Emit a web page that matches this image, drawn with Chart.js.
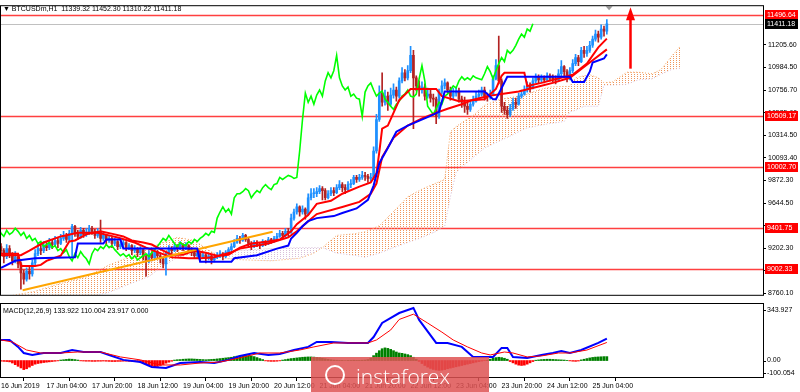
<!DOCTYPE html>
<html>
<head>
<meta charset="utf-8">
<title>BTCUSDm,H1</title>
<script src="https://cdn.jsdelivr.net/npm/chart.js@4.4.1/dist/chart.umd.min.js"></script>
<style>
  html, body { margin: 0; padding: 0; background: #fff; }
  #wrap { position: relative; width: 800px; height: 392px; overflow: hidden; background: #fff; }
  canvas { position: absolute; left: 0; }
  #priceChart { top: 0; }
  #macdChart { top: 301px; }
  .caption { position: absolute; left: 3px; font: 7px 'Liberation Sans', sans-serif; color: #000; white-space: pre; }
  #mark { position: absolute; left: 311px; top: 357px; width: 178px; height: 35px; background: rgba(222, 82, 82, 0.85); }
  #mark span { position: absolute; left: 45px; top: 5px; font: 300 21px 'Open Sans', sans-serif; color: #fff; }
  #mark i { position: absolute; left: 14px; top: 8px; width: 16px; height: 16px; border: 2px solid #fff; border-radius: 50%; }
</style>
</head>
<body>
<div id="wrap">
  <canvas id="priceChart" width="800" height="301"></canvas>
  <canvas id="macdChart" width="800" height="91"></canvas>
  <div class="caption" style="top:5px">▼ BTCUSDm,H1  11339.32 11452.30 11310.22 11411.18</div>
  <div class="caption" style="top:307px">MACD(12,26,9) 133.922 110.004 23.917 0.000</div>
  <div id="mark"><i></i><span>instaforex</span></div>
</div>
<script>
// H1 candles, bar 0 = 16 Jun 12:00. open of each bar = close of the bar before
const firstOpen = 9220;
const closes = [
  9180, 9120, 9200, 9150, 9080, 9120, 9050, 8960, 8900, 8980,
  8950, 9060, 9150, 9200, 9180, 9230, 9210, 9260, 9240, 9280,
  9250, 9300, 9330, 9290, 9350, 9420, 9350, 9320, 9380, 9340,
  9360, 9400, 9370, 9330, 9360, 9300, 9330, 9280, 9300, 9250,
  9270, 9220, 9240, 9260, 9210, 9230, 9180, 9200, 9160, 9190,
  9120, 9080, 9150, 9110, 9170, 9130, 9100, 9050, 9150, 9200,
  9180, 9220, 9200, 9240, 9210, 9230, 9190, 9160, 9130, 9150,
  9120, 9140, 9100, 9130, 9090, 9110, 9130, 9150, 9120, 9160,
  9190, 9220, 9260, 9300, 9280, 9330, 9290, 9250, 9220, 9260,
  9240, 9230, 9270, 9250, 9290, 9270, 9300, 9320, 9350, 9330,
  9370, 9360, 9500, 9560, 9610, 9560, 9590, 9540, 9700, 9740,
  9740, 9760, 9790, 9770, 9700, 9740, 9770, 9750, 9800, 9830,
  9800, 9780, 9830, 9840, 9900, 9880, 9900, 9920, 9910, 9890,
  9900, 10160, 10470, 10730, 10640, 10700, 10620, 10710, 10760, 10700,
  10850, 10930, 10880, 10950, 11100, 10880, 10800, 10760, 10790, 10700,
  10720, 10680, 10670, 10500, 10740, 10800, 10830, 10760, 10700, 10730,
  10750, 10670, 10640, 10600, 10570, 10620, 10650, 10700, 10720, 10760,
  10700, 10690, 10720, 10870, 11000, 10850, 10600, 10560, 10520, 10580,
  10640, 10620, 10700, 10720, 10760, 10800, 10780, 10850, 10890, 10860,
  10880, 10860, 10900, 10880, 10870, 10860, 10920, 10990, 10940, 10870,
  10950, 11020, 11080, 11040, 11150, 11120, 11150, 11200, 11260, 11310,
  11280, 11360, 11339.32, 11411.18
];
const highs = [
  9250, 9200, 9240, 9230, 9160, 9170, 9140, 9070, 8990, 9010,
  9020, 9090, 9190, 9260, 9240, 9270, 9260, 9300, 9290, 9320,
  9300, 9340, 9370, 9350, 9380, 9440, 9430, 9380, 9410, 9400,
  9400, 9430, 9420, 9390, 9400, 9480, 9360, 9340, 9330, 9310,
  9300, 9280, 9270, 9290, 9270, 9250, 9240, 9230, 9210, 9220,
  9200, 9140, 9180, 9170, 9200, 9180, 9150, 9120, 9170, 9230,
  9220, 9250, 9240, 9270, 9250, 9260, 9240, 9210, 9180, 9170,
  9160, 9160, 9150, 9150, 9140, 9130, 9160, 9180, 9160, 9180,
  9210, 9250, 9290, 9330, 9320, 9350, 9340, 9300, 9270, 9280,
  9280, 9260, 9290, 9280, 9310, 9300, 9320, 9350, 9380, 9370,
  9400, 9400, 9540, 9590, 9640, 9620, 9620, 9600, 9740, 9790,
  9790, 9800, 9820, 9810, 9790, 9770, 9800, 9800, 9830, 9870,
  9850, 9830, 9860, 9880, 9920, 9920, 9930, 9960, 9950, 9930,
  9940, 10200, 10520, 10800, 10930, 10760, 10740, 10780, 10820, 10790,
  10880, 10980, 10960, 11000, 11190, 11150, 10900, 10850, 10840, 10820,
  10780, 10760, 10720, 10690, 10770, 10850, 10870, 10840, 10790, 10780,
  10790, 10780, 10700, 10690, 10640, 10660, 10700, 10740, 10760, 10790,
  10790, 10730, 10760, 10900, 11060, 11290, 10870, 10640, 10600, 10620,
  10680, 10680, 10730, 10760, 10800, 10840, 10830, 10880, 10920, 10910,
  10910, 10900, 10930, 10920, 10910, 10900, 10960, 11050, 11000, 10960,
  10980, 11060, 11110, 11100, 11180, 11190, 11190, 11240, 11290, 11350,
  11340, 11400, 11390, 11452.30
];
const lows = [
  9150, 9060, 9100, 9110, 9040, 9060, 9010, 8800, 8850, 8880,
  8900, 8930, 9040, 9130, 9140, 9160, 9180, 9190, 9200, 9220,
  9210, 9240, 9280, 9260, 9270, 9110, 9320, 9290, 9300, 9310,
  9320, 9340, 9340, 9300, 9310, 9260, 9280, 9240, 9260, 9210,
  9230, 9190, 9200, 9220, 9180, 9190, 9140, 9160, 9120, 9140,
  9090, 8930, 9060, 9080, 9100, 9100, 9060, 9010, 8940, 9140,
  9150, 9170, 9170, 9190, 9180, 9190, 9160, 9130, 9100, 9110,
  9080, 9100, 9060, 9090, 9050, 9070, 9100, 9110, 9090, 9110,
  9140, 9170, 9210, 9250, 9250, 9270, 9270, 9220, 9190, 9210,
  9220, 9200, 9220, 9230, 9240, 9250, 9260, 9290, 9310, 9300,
  9310, 9320, 9350, 9480, 9540, 9520, 9540, 9490, 9530, 9680,
  9700, 9710, 9740, 9680, 9680, 9690, 9720, 9720, 9740, 9780,
  9760, 9740, 9770, 9800, 9830, 9850, 9860, 9880, 9870, 9850,
  9860, 9880, 10140, 10450, 10600, 10610, 10560, 10600, 10680, 10650,
  10680, 10830, 10850, 10860, 10930, 10380, 10750, 10700, 10730, 10660,
  10680, 10640, 10600, 10430, 10480, 10720, 10770, 10730, 10660, 10670,
  10700, 10640, 10590, 10540, 10520, 10550, 10600, 10640, 10680, 10700,
  10660, 10650, 10670, 10710, 10860, 10820, 10540, 10520, 10480, 10500,
  10560, 10580, 10610, 10680, 10710, 10740, 10740, 10770, 10830, 10830,
  10840, 10830, 10850, 10850, 10840, 10820, 10850, 10900, 10880, 10840,
  10860, 10930, 11000, 11000, 11030, 11080, 11090, 11130, 11180, 11240,
  11230, 11260, 11290, 11310.22
];

// indicator lines as [bar, price]
const tenkan = [[0,9150],[6,9150],[7,9030],[12,9030],[14,9040],[16,9080],[18,9100],[21,9130],[24,9270],[26,9280],[30,9340],[35,9370],[40,9340],[43,9320],[46,9280],[50,9260],[53,9240],[57,9180],[60,9140],[64,9140],[68,9180],[72,9160],[76,9130],[80,9140],[84,9210],[88,9250],[94,9270],[98,9290],[102,9370],[104,9440],[108,9530],[111,9640],[116,9670],[120,9740],[126,9810],[130,9850],[132,9940],[133,10150],[134,10380],[136,10410],[140,10660],[144,10770],[153,10770],[155,10700],[161,10650],[170,10670],[174,10770],[176,10900],[177,10930],[184,10930],[185,10800],[190,10830],[201,10910],[206,11020],[210,11180],[213,11265]];
const kijun = [[0,9010],[5,9080],[12,9105],[26,9115],[27,9250],[36,9250],[37,9290],[42,9290],[43,9200],[69,9200],[70,9070],[81,9070],[82,9105],[90,9135],[97,9200],[101,9230],[102,9300],[104,9355],[106,9420],[108,9470],[111,9500],[117,9520],[120,9550],[125,9595],[129,9680],[131,9820],[132,9930],[133,10040],[136,10190],[139,10350],[143,10410],[151,10505],[154,10545],[156,10745],[170,10745],[173,10670],[174,10670],[178,10890],[200,10890],[201,10840],[205,10840],[207,10940],[208,11030],[212,11070],[213,11110]];
const maLine = [[0,9135],[7,9135],[10,9180],[15,9260],[21,9320],[27,9355],[34,9355],[38,9330],[41,9310],[47,9260],[51,9210],[55,9165],[60,9115],[66,9105],[70,9105],[75,9115],[81,9165],[84,9200],[94,9250],[101,9310],[104,9370],[108,9470],[111,9540],[120,9610],[126,9660],[130,9740],[132,9840],[134,10100],[138,10290],[143,10410],[148,10480],[152,10525],[157,10575],[162,10620],[166,10665],[171,10700],[176,10720],[182,10745],[189,10795],[194,10830],[200,10880],[207,11030],[213,11160]];
const chikouShift = 26;

const cloudBars = [0, 12, 20, 30, 38, 45, 52, 56, 62, 68, 73, 78, 85, 95, 105, 110, 113, 118, 124, 128, 133, 138, 143, 148, 153, 156, 158, 160, 162, 166, 170, 175, 180, 184, 189, 193, 198, 200, 202, 205, 207, 210, 212, 215, 220, 224, 229, 232, 236, 239];
const senkouA = [8720, 8780, 8850, 8920, 9040, 9115, 9200, 9250, 9310, 9280, 9185, 9105, 9090, 9080, 9105, 9155, 9210, 9330, 9345, 9365, 9425, 9565, 9710, 9785, 9845, 9880, 10350, 10400, 10440, 10510, 10610, 10665, 10690, 10710, 10760, 10790, 10795, 10795, 10880, 10900, 10910, 10880, 10830, 10840, 10935, 10935, 10920, 10960, 11100, 11195];
const senkouB = [8650, 8690, 8700, 8720, 8770, 8850, 8925, 9010, 9115, 9155, 9155, 9165, 9185, 9200, 9210, 9210, 9210, 9155, 9135, 9115, 9155, 9210, 9260, 9310, 9370, 9420, 9710, 9950, 10000, 10095, 10190, 10255, 10320, 10380, 10410, 10430, 10450, 10545, 10560, 10600, 10600, 10600, 10810, 10810, 10815, 10860, 10870, 10915, 10965, 10975];

const trendLine = [[7.6, 8790], [95.5, 9365]];
const levels = [11496.64, 10509.17, 10002.70, 9401.75, 9002.33];
const lastPrice = 11411.18;
const arrowBar = 221, arrowFrom = 10970, arrowTo = 11574;
const priceTicks = [11205.60, 10984.50, 10756.70, 10535.60, 10314.50, 10093.40, 9872.30, 9644.50, 9423.40, 9202.30, 8981.20, 8760.10];

// MACD panel
const macdLine = [[0,125],[3,125],[6,83],[8,46],[11,34],[15,46],[21,46],[25,64],[29,52],[35,52],[38,34],[43,4],[49,-9],[53,-39],[58,-45],[63,-15],[70,-9],[75,-15],[80,4],[84,28],[89,46],[94,34],[98,40],[103,64],[108,83],[111,113],[116,113],[122,107],[129,107],[131,143],[134,229],[140,289],[145,320],[147,247],[153,107],[157,107],[162,83],[166,22],[173,22],[176,77],[178,77],[180,22],[185,16],[190,34],[194,46],[197,58],[200,46],[204,64],[210,107],[213,133.922]];
const signalLine = [[0,125],[4,113],[9,64],[14,46],[21,46],[27,52],[35,52],[42,22],[49,4],[56,-27],[63,-27],[70,-15],[77,-9],[84,16],[91,46],[98,46],[105,64],[110,83],[117,107],[129,107],[132,125],[137,186],[140,250],[145,282],[150,228],[155,173],[159,125],[164,83],[169,46],[172,34],[177,52],[180,46],[185,22],[190,28],[196,46],[200,46],[206,64],[213,110.004]];
const macdHist = [
  -4, -5, -6, -8, -15, -25, -35, -45, -55, -50, -40, -30,
  -22, -18, -15, -12, -10, -8, -6, -4, -2,
  3, 5, 7, 9, 8, 6, 3,
  -2, -3, -4, -4, -5, -5, -4, -4, -3, -4, -5, -6, -6, -5, -5, -4, -4, -5, -6, -6, -7,
  -10, -16, -22, -28, -34, -38, -36, -30, -24, -16, -10, -4,
  3, 5, 6, 8, 9, 10, 10, 9, 8, 7, 6, 5, 6, 7, 8, 10, 12, 14, 16, 18, 20,
  24, 27, 29, 30, 31, 30, 28, 24, 18, 12, 6,
  -2, -4, -5, -5, -4, -2,
  3, 6, 9, 12, 14, 16, 18, 20, 21, 22, 22, 21, 19, 17, 14, 11, 8, 5,
  3, 2, 1, 1, 0, 1, 1, 2, 1, 1, 2, 3, 6, 15,
  30, 45, 60, 72, 77, 74, 68, 60, 52, 46, 44, 40, 36, 30, 20,
  8, -5, -18, -30, -40, -48, -54, -58, -60, -58, -55, -50, -46, -42, -38, -34, -30, -26, -22, -18, -14, -10, -6, -3, -1, 2,
  8, 14, 18, 20, 18, 14, 8,
  -6, -14, -22, -28, -30, -28, -22, -14, -6,
  2, 4, 6, 7, 8, 8, 7, 6, 5, 4, 3, 1,
  -2, -4, -5, -3,
  4, 8, 12, 16, 19, 21, 22, 23, 24, 23.917
];
const macdTickValues = [343.927, 0, -100.054];
const macdTickLabels = ['343.927', '0.00', '-100.054'];

const timeTickBars = [0, 16, 32, 48, 64, 80, 96, 112, 128, 144, 160, 176, 192, 208];
const timeTickLabels = ['16 Jun 2019', '17 Jun 04:00', '17 Jun 20:00', '18 Jun 12:00', '19 Jun 04:00', '19 Jun 20:00', '20 Jun 12:00', '21 Jun 04:00', '21 Jun 20:00', '22 Jun 12:00', '23 Jun 04:00', '23 Jun 20:00', '24 Jun 12:00', '25 Jun 04:00'];

const FONT = "'Liberation Sans', sans-serif";
const X_MIN = 0, X_MAX = 267.9;
const Y_MIN = 8745.7, Y_MAX = 11584.4;
const BULL = '#1E90FF', BEAR = '#B22222';

Chart.defaults.font.family = FONT;
Chart.defaults.font.size = 7;
Chart.defaults.color = '#000';

const pts = pairs => pairs.map(([x, y]) => ({ x, y }));

// dotted hatch like the terminal's cloud
function dots(color) {
    const c = document.createElement('canvas');
    c.width = 3; c.height = 2;
    const g = c.getContext('2d');
    g.fillStyle = color;
    g.fillRect(1, 0, 1, 1);
    return g.createPattern(c, 'repeat');
}

const opens = closes.map((c, i) => i === 0 ? firstOpen : closes[i - 1]);
const candleColors = closes.map((c, i) => c >= opens[i] ? BULL : BEAR);

const framePlugin = {
    id: 'frame',
    afterDraw(chart) {
        const { ctx, chartArea: a } = chart;
        ctx.save();
        ctx.strokeStyle = '#000';
        ctx.lineWidth = 1;
        ctx.strokeRect(a.left - 0.5, a.top - 0.5, a.right - a.left + 1, a.bottom - a.top + 1);
        ctx.restore();
    }
};

function tag(ctx, x, y, text, bg) {
    const yy = Math.round(y);
    ctx.fillStyle = bg;
    ctx.fillRect(x, yy - 5, 33, 10);
    ctx.fillStyle = '#fff';
    ctx.textBaseline = 'middle';
    ctx.textAlign = 'left';
    ctx.font = `7px ${FONT}`;
    ctx.fillText(text, x + 2, yy + 0.5);
}

const levelsPlugin = {
    id: 'levels',
    beforeDatasetsDraw(chart) {
        const { ctx, chartArea: a, scales: { y } } = chart;
        ctx.save();
        ctx.lineWidth = 1;
        ctx.strokeStyle = '#C0C0C0';
        let py = Math.round(y.getPixelForValue(lastPrice)) + 0.5;
        ctx.beginPath(); ctx.moveTo(a.left, py); ctx.lineTo(a.right, py); ctx.stroke();
        ctx.strokeStyle = 'rgba(255, 30, 30, 0.85)';
        ctx.lineWidth = 1.5;
        levels.forEach(v => {
            py = Math.round(y.getPixelForValue(v)) + 0.5;
            ctx.beginPath(); ctx.moveTo(a.left, py); ctx.lineTo(a.right, py); ctx.stroke();
        });
        ctx.restore();
    },
    afterDatasetsDraw(chart) {
        const { ctx, scales: { x, y } } = chart;
        // arrow
        const ax = Math.round(x.getPixelForValue(arrowBar)) + 0.5;
        const y0 = y.getPixelForValue(arrowFrom), y1 = y.getPixelForValue(arrowTo);
        ctx.save();
        ctx.strokeStyle = '#FF0000';
        ctx.fillStyle = '#FF0000';
        ctx.lineWidth = 2.5;
        ctx.beginPath(); ctx.moveTo(ax, y0); ctx.lineTo(ax, y1 + 10); ctx.stroke();
        ctx.beginPath(); ctx.moveTo(ax, y1); ctx.lineTo(ax - 4.5, y1 + 13); ctx.lineTo(ax + 4.5, y1 + 13); ctx.closePath(); ctx.fill();
        ctx.restore();
    },
    afterDraw(chart) {
        const { ctx, chartArea: a, scales: { x, y } } = chart;
        ctx.save();
        levels.forEach(v => tag(ctx, a.right + 2, y.getPixelForValue(v), v.toFixed(2), '#FF0000'));
        tag(ctx, a.right + 2, y.getPixelForValue(lastPrice), lastPrice.toFixed(2), '#000');
        // shift marker on the top border
        const mx = x.getPixelForValue(closes.length - 0.2);
        ctx.fillStyle = '#999';
        ctx.beginPath(); ctx.moveTo(mx - 3.5, a.top); ctx.lineTo(mx + 3.5, a.top); ctx.lineTo(mx, a.top + 4); ctx.closePath(); ctx.fill();
        ctx.restore();
    }
};

const macdAxisPlugin = {
    id: 'macdAxis',
    afterDraw(chart) {
        const { ctx, chartArea: a, scales: { y } } = chart;
        ctx.save();
        ctx.font = `7px ${FONT}`;
        ctx.fillStyle = '#000';
        ctx.strokeStyle = '#000';
        ctx.textBaseline = 'middle';
        macdTickValues.forEach((v, i) => {
            const py = Math.min(Math.max(y.getPixelForValue(v), a.top + 6), a.bottom - 4);
            ctx.beginPath(); ctx.moveTo(a.right, Math.round(py) + 0.5); ctx.lineTo(a.right + 3, Math.round(py) + 0.5); ctx.stroke();
            ctx.fillText(macdTickLabels[i], a.right + 4, py);
        });
        ctx.restore();
    }
};

const lineStyle = (color, width) => ({
    type: 'line', borderColor: color, borderWidth: width, pointRadius: 0, tension: 0, fill: false
});

new Chart(document.getElementById('priceChart'), {
    type: 'bar',
    data: {
        datasets: [
            {
                ...lineStyle('#F4A460', 1), borderDash: [1, 2], order: 30,
                data: cloudBars.map((b, i) => ({ x: b, y: senkouA[i] })),
                fill: { target: '+1', above: dots('#F0965A'), below: dots('#D8BFD8') }
            },
            {
                ...lineStyle('#D8BFD8', 1), borderDash: [1, 2], order: 31,
                data: cloudBars.map((b, i) => ({ x: b, y: senkouB[i] }))
            },
            {
                type: 'bar', order: 20, grouped: false, barThickness: 1,
                data: closes.map((c, i) => ({ x: i, y: [lows[i], highs[i]] })),
                backgroundColor: candleColors
            },
            {
                type: 'bar', order: 19, grouped: false, barThickness: 2, minBarLength: 1,
                data: closes.map((c, i) => ({ x: i, y: [opens[i], c] })),
                backgroundColor: candleColors
            },
            { ...lineStyle('#00FF00', 1.6), order: 4, data: closes.map((c, i) => ({ x: i - chikouShift, y: c })) },
            { ...lineStyle('#FF0000', 2), order: 3, data: pts(maLine) },
            { ...lineStyle('#FF0000', 2), order: 2, data: pts(tenkan) },
            { ...lineStyle('#0000FF', 2), order: 1, data: pts(kijun) },
            { ...lineStyle('#FFA500', 2), order: 1, data: pts(trendLine) }
        ]
    },
    options: {
        responsive: false,
        animation: false,
        events: [],
        layout: { padding: { top: 4, left: 1, right: 0, bottom: 1 } },
        plugins: { legend: { display: false }, tooltip: { enabled: false } },
        scales: {
            x: { type: 'linear', min: X_MIN, max: X_MAX, offset: false, display: false },
            y: {
                position: 'right',
                min: Y_MIN,
                max: Y_MAX,
                afterBuildTicks: s => { s.ticks = priceTicks.map(v => ({ value: v })); },
                afterFit: s => { s.width = 37; },
                ticks: { callback: v => v.toFixed(2), padding: 2, autoSkip: false, color: '#000' },
                grid: { drawOnChartArea: false, tickLength: 3, color: '#000' },
                border: { color: '#000' }
            }
        }
    },
    plugins: [levelsPlugin, framePlugin]
});

new Chart(document.getElementById('macdChart'), {
    type: 'bar',
    data: {
        datasets: [
            {
                type: 'bar', order: 5, grouped: false, barThickness: 2,
                data: macdHist.map((v, i) => ({ x: i, y: v })),
                backgroundColor: macdHist.map(v => v >= 0 ? '#008000' : '#FF0000')
            },
            { ...lineStyle('#0000FF', 2), order: 2, data: pts(macdLine) },
            { ...lineStyle('#FF0000', 1), order: 1, data: pts(signalLine) }
        ]
    },
    options: {
        responsive: false,
        animation: false,
        events: [],
        layout: { padding: { top: 3, left: 1, right: 0, bottom: 0 } },
        plugins: { legend: { display: false }, tooltip: { enabled: false } },
        scales: {
            x: {
                type: 'linear', min: X_MIN, max: X_MAX, offset: false,
                afterBuildTicks: s => { s.ticks = timeTickBars.map(v => ({ value: v })); },
                afterFit: s => { s.height = 15; },
                ticks: {
                    callback: v => timeTickLabels[timeTickBars.indexOf(v)],
                    align: 'start', padding: 1, maxRotation: 0, autoSkip: false, color: '#000'
                },
                grid: { drawOnChartArea: false, tickLength: 4, color: '#000' },
                border: { color: '#000' }
            },
            y: {
                position: 'right', min: -100.054, max: 343.927,
                afterFit: s => { s.width = 37; },
                ticks: { display: false },
                grid: { display: false },
                border: { color: '#000' }
            }
        }
    },
    plugins: [macdAxisPlugin, framePlugin]
});
</script>
</body>
</html>
